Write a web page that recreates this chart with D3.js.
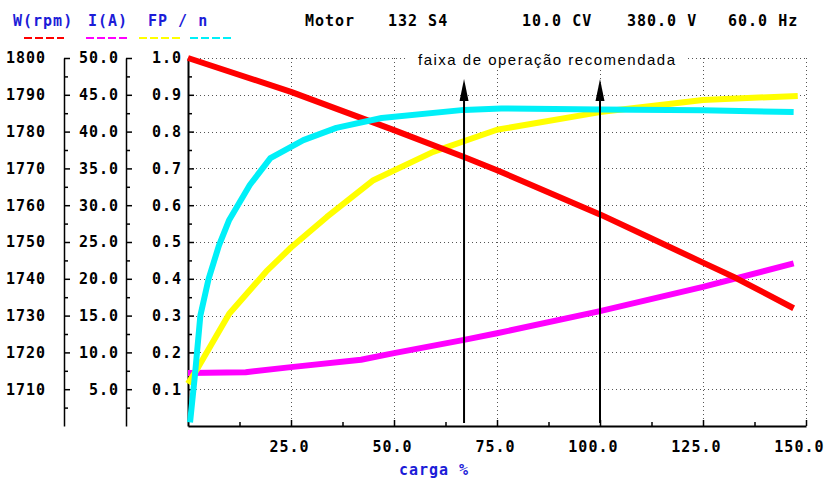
<!DOCTYPE html>
<html>
<head>
<meta charset="utf-8">
<script src="https://cdn.jsdelivr.net/npm/d3@7"></script>
<style>
  body { margin: 0; background: #fff; }
  svg { display: block; }
  .mono { font-family: "DejaVu Sans Mono", "Liberation Mono", monospace; font-weight: bold; font-size: 15px; letter-spacing: 1px; }
</style>
</head>
<body>
<div id="chart"></div>
<script>
// header / legend
var legendNames = ["W(rpm)", "I(A)", "FP / n"];
var headerInfo = ["Motor", "132 S4", "10.0 CV", "380.0 V", "60.0 Hz"];

// tick labels
var rpmTicks = [1800, 1790, 1780, 1770, 1760, 1750, 1740, 1730, 1720, 1710];
var ampTicks = [50, 45, 40, 35, 30, 25, 20, 15, 10, 5];
var fpTicks = [1.0, 0.9, 0.8, 0.7, 0.6, 0.5, 0.4, 0.3, 0.2, 0.1];
var cargaTicks = [25, 50, 75, 100, 125, 150];

// rotação (rpm) x carga %
var rpmCarga = [0, 25, 50, 67, 75, 100, 112, 125, 133, 147];
var rpmVals  = [1800, 1790.8, 1780.4, 1773.1, 1769.5, 1757.5, 1751.2, 1744.4, 1740.2, 1732];

// corrente (A) x carga %
var ampCarga = [0, 14, 25, 42, 50, 67, 75, 100, 125, 147];
var ampVals  = [7.2, 7.3, 8.0, 9.0, 9.9, 11.7, 12.6, 15.6, 18.9, 22.1];

// fator de potência x carga %
var fpCarga = [0, 2.5, 10, 19, 25, 33.7, 45, 59.5, 75, 100, 125, 148];
var fpVals  = [0.115, 0.16, 0.305, 0.42, 0.485, 0.568, 0.668, 0.745, 0.805, 0.853, 0.886, 0.897];

// rendimento x carga %
var rendCarga = [0.5, 1.7, 3, 5, 7.5, 10, 15, 20, 28, 36, 47, 67, 76, 100, 125, 147];
var rendVals  = [0.01, 0.14, 0.3, 0.4, 0.49, 0.56, 0.655, 0.728, 0.777, 0.81, 0.837, 0.859, 0.863, 0.86, 0.858, 0.853];

// faixa de operação recomendada
var faixa = [67, 100];

var W = 827, H = 480;
var pL = 188, pR = 806, pT = 58, pB = 426;
var blue = "#1c1cd8";
var colors = ["#ff0000", "#ff00ff", "#ffff00", "#00f0f8"];

var svg = d3.select("#chart").append("svg")
  .attr("width", W).attr("height", H);

var x = d3.scaleLinear().domain([0, 150]).range([pL, pR]);
var yFP = d3.scaleLinear().domain([0, 1]).range([pB, pT]);
var yRpm = d3.scaleLinear().domain([1700, 1800]).range([pB, pT]);
var yAmp = d3.scaleLinear().domain([0, 50]).range([pB, pT]);

// dotted grid
var grid = svg.append("g")
  .attr("stroke", "#555").attr("stroke-width", 1).attr("stroke-dasharray", "1,3");
grid.selectAll("line.h")
  .data(fpTicks)
  .join("line")
  .attr("class", "h")
  .attr("x1", pL).attr("x2", pR)
  .attr("y1", d => Math.round(yFP(d)) + 0.5).attr("y2", d => Math.round(yFP(d)) + 0.5);
grid.selectAll("line.v")
  .data(cargaTicks)
  .join("line")
  .attr("class", "v")
  .attr("x1", d => Math.round(x(d)) + 0.5).attr("x2", d => Math.round(x(d)) + 0.5)
  .attr("y1", pT).attr("y2", pB);

// left axes (labels to the left, ticks pointing right)
function leftAxis(scale, xpos, vals, fmt, pad, step) {
  var g = svg.append("g").attr("transform", "translate(" + xpos + ",0)");
  g.call(d3.axisLeft(scale).tickValues(vals).tickFormat(fmt)
      .tickSizeInner(-6).tickSizeOuter(0).tickPadding(pad));
  var minors = vals.map(v => v - step / 2);
  g.append("g").call(d3.axisLeft(scale).tickValues(minors).tickFormat("")
      .tickSizeInner(-4).tickSizeOuter(0))
    .select(".domain").remove();
  g.selectAll("path, line").attr("stroke", "#000").attr("stroke-width", 1.5);
  g.selectAll("text").attr("class", "mono").attr("fill", "#000");
  g.attr("font-size", null).attr("font-family", null);
  return g;
}
leftAxis(yRpm, 64, rpmTicks, d3.format("d"), 18, 10);
leftAxis(yAmp, 126, ampTicks, d3.format(".1f"), 7, 5);
var fpAx = leftAxis(yFP, 188, fpTicks, d3.format(".1f"), 6, 0.1);
fpAx.select(".domain").attr("stroke-width", 2);

// x axis
var xAx = svg.append("g").attr("transform", "translate(0," + pB + ")");
xAx.call(d3.axisBottom(x).tickValues(cargaTicks).tickFormat(d3.format(".1f"))
    .tickSizeInner(-6).tickSizeOuter(0).tickPadding(15));
xAx.append("g").call(d3.axisBottom(x).tickValues(cargaTicks.map(v => v - 12.5))
    .tickFormat("").tickSizeInner(-4).tickSizeOuter(0))
  .select(".domain").remove();
xAx.attr("font-size", null).attr("font-family", null);
xAx.selectAll("path, line").attr("stroke", "#000").attr("stroke-width", 1.5);
xAx.select(".domain").attr("stroke-width", 2);
xAx.selectAll("text").attr("class", "mono").attr("fill", "#000")
  .attr("text-anchor", "end").attr("x", 18);

svg.append("text").attr("class", "mono")
  .attr("x", 434).attr("y", 475).attr("text-anchor", "middle")
  .attr("fill", blue).text("carga %");

// curves
function curve(xs, ys, scale, color) {
  var pts = xs.map((c, i) => [x(c), scale(ys[i])]);
  svg.append("path")
    .attr("d", d3.line().curve(d3.curveLinear)(pts))
    .attr("fill", "none")
    .attr("stroke", color)
    .attr("stroke-width", 6)
    .attr("stroke-linejoin", "round");
}
curve(ampCarga, ampVals, yAmp, colors[1]);
curve(fpCarga, fpVals, yFP, colors[2]);
curve(rpmCarga, rpmVals, yRpm, colors[0]);
curve(rendCarga, rendVals, yFP, colors[3]);

// annotation + arrows
svg.append("rect").attr("x", 408).attr("y", 49).attr("width", 278).attr("height", 20).attr("fill", "#fff");
svg.append("text")
  .attr("x", 418).attr("y", 65)
  .attr("textLength", 257).attr("lengthAdjust", "spacing")
  .style("font-family", "'Liberation Sans', Arial, sans-serif")
  .style("font-size", "15px")
  .attr("fill", "#000")
  .text("faixa de operação recomendada");

faixa.forEach(function(c) {
  var ax = x(c);
  svg.append("line").attr("x1", ax).attr("x2", ax).attr("y1", 423).attr("y2", 96)
    .attr("stroke", "#000").attr("stroke-width", 2);
  svg.append("path")
    .attr("d", "M" + ax + ",79L" + (ax - 4.5) + ",101L" + (ax + 4.5) + ",101Z")
    .attr("fill", "#000");
});

// header
var legX = [13, 88, 148];
var dashX = [[24, 64], [86, 127], [139, 180], [190, 231]];
legendNames.forEach(function(n, i) {
  svg.append("text").attr("class", "mono").attr("x", legX[i]).attr("y", 26)
    .attr("fill", blue).text(n);
});
dashX.forEach(function(d, i) {
  svg.append("line").attr("x1", d[0]).attr("x2", d[1]).attr("y1", 38).attr("y2", 38)
    .attr("stroke", colors[i]).attr("stroke-width", 2).attr("stroke-dasharray", "8,3");
});
var infoX = [305, 388, 522, 627, 728];
headerInfo.forEach(function(t, i) {
  svg.append("text").attr("class", "mono").attr("x", infoX[i]).attr("y", 26)
    .attr("fill", "#000").text(t);
});
</script>
</body>
</html>
